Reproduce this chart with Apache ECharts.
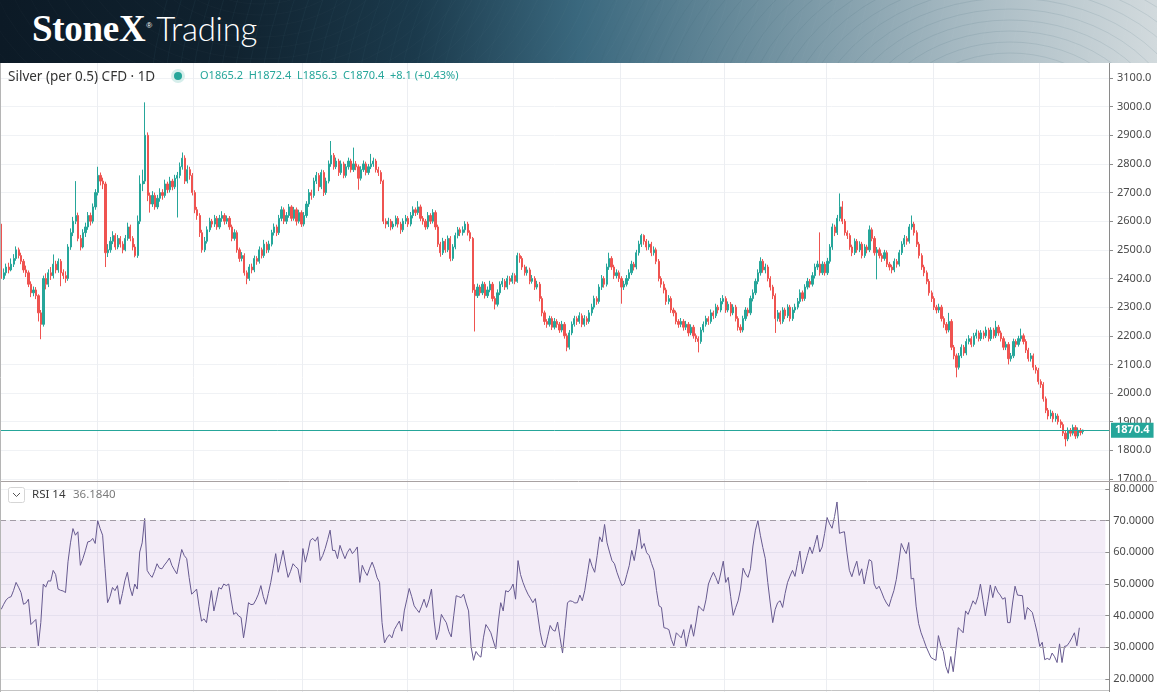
<!DOCTYPE html>
<html><head><meta charset="utf-8">
<script src="https://cdn.jsdelivr.net/npm/echarts@6/dist/echarts.min.js"></script>
<style>
html,body{margin:0;padding:0;background:#fff;overflow:hidden;width:1157px;height:692px}
#hdr{position:absolute;left:0;top:0;width:1157px;height:63px;background:linear-gradient(90deg,#0c1a26 0%,#10222f 20%,#1b3a4c 36%,#3a687e 50%,#6f909f 66%,#a3b7c0 82%,#d2dadd 100%);overflow:hidden;z-index:2}
#hdr svg{position:absolute;left:0;top:0}
#logo{position:absolute;left:32px;top:6px;color:#fff;white-space:nowrap;line-height:44px}
#logo .s{font-family:"Liberation Serif","DejaVu Serif",serif;font-weight:bold;font-size:37px;letter-spacing:-0.3px}
#logo sup{font-family:"Liberation Sans",sans-serif;font-size:8px;vertical-align:top;position:relative;top:-2px;margin-left:1px}
#logo .t{font-family:Lato,sans-serif;font-weight:300;font-size:33px;margin-left:4px;letter-spacing:-0.3px}
#chart{position:absolute;left:0;top:0;width:1157px;height:692px}
</style></head>
<body>
<div id="chart"></div>
<div id="hdr">
<svg width="1157" height="63" viewBox="0 0 1157 63">
<g fill="none" stroke="#3d6273" stroke-opacity="0.22" stroke-width="0.6" id="arcs"></g>
<g fill="none" stroke="#ffffff" stroke-opacity="0.04" stroke-width="0.6" id="arcs2"></g>
</svg>
<div id="logo"><span class="s">StoneX</span><sup>®</sup><span class="t">Trading</span></div>
</div>
<script>
// [open, close, low, high]
const bars = [
[2590,2400,2365,2600],[2400,2420,2395,2435],[2420,2440,2410,2452],[2440,2430,2418,2455],[2430,2450,2425,2470],
[2450,2470,2440,2485],[2470,2500,2462,2512],[2500,2480,2470,2508],[2480,2460,2450,2490],[2460,2430,2420,2468],
[2430,2420,2405,2445],[2420,2380,2370,2428],[2380,2350,2335,2390],[2350,2360,2338,2372],[2360,2340,2328,2370],
[2340,2280,2250,2345],[2280,2240,2188,2290],[2240,2400,2232,2410],[2400,2380,2362,2418],[2380,2420,2370,2432],
[2420,2410,2395,2440],[2410,2450,2400,2484],[2450,2430,2418,2462],[2430,2460,2420,2470],[2460,2420,2373,2468],
[2420,2410,2398,2432],[2410,2400,2385,2425],[2400,2510,2392,2520],[2510,2560,2500,2575],[2560,2600,2548,2615],
[2600,2620,2590,2740],[2620,2540,2530,2630],[2540,2510,2498,2552],[2510,2560,2505,2572],[2560,2580,2545,2595],
[2580,2620,2570,2632],[2620,2600,2585,2630],[2600,2650,2592,2662],[2650,2700,2640,2712],[2700,2760,2690,2790],
[2760,2740,2725,2770],[2740,2730,2712,2752],[2730,2490,2440,2738],[2490,2500,2475,2520],[2500,2530,2490,2545],
[2530,2550,2520,2565],[2550,2510,2500,2558],[2510,2540,2502,2552],[2540,2520,2508,2548],[2520,2500,2488,2530],
[2500,2540,2495,2552],[2540,2580,2532,2595],[2580,2540,2530,2588],[2540,2510,2498,2548],[2510,2480,2474,2520],
[2480,2600,2472,2620],[2600,2730,2590,2760],[2730,2740,2705,2780],[2740,2900,2730,3015],[2900,2690,2670,2910],
[2690,2660,2630,2700],[2660,2690,2650,2705],[2690,2650,2640,2700],[2650,2680,2642,2692],[2680,2700,2668,2715],
[2700,2690,2675,2712],[2690,2730,2682,2745],[2730,2710,2698,2738],[2710,2740,2700,2755],[2740,2720,2708,2748],
[2720,2750,2712,2762],[2750,2760,2613,2772],[2760,2790,2750,2805],[2790,2820,2780,2840],[2820,2740,2730,2830],
[2740,2780,2732,2795],[2780,2760,2745,2790],[2760,2700,2690,2768],[2700,2640,2628,2708],[2640,2620,2605,2650],
[2620,2560,2545,2628],[2560,2500,2490,2570],[2500,2530,2492,2545],[2530,2570,2522,2582],[2570,2600,2562,2612],
[2600,2590,2578,2608],[2590,2610,2580,2622],[2610,2580,2570,2618],[2580,2610,2572,2622],[2610,2620,2598,2635],
[2620,2600,2588,2628],[2600,2610,2590,2620],[2610,2580,2570,2618],[2580,2540,2530,2588],[2540,2560,2532,2572],
[2560,2500,2490,2568],[2500,2470,2458,2508],[2470,2480,2460,2492],[2480,2420,2410,2488],[2420,2400,2380,2428],
[2400,2440,2392,2450],[2440,2430,2418,2452],[2430,2470,2422,2480],[2470,2460,2448,2478],[2460,2500,2452,2512],
[2500,2480,2470,2508],[2480,2520,2472,2535],[2520,2500,2488,2528],[2500,2520,2490,2532],[2520,2560,2512,2570],
[2560,2580,2550,2592],[2580,2560,2548,2588],[2560,2610,2552,2622],[2610,2640,2600,2652],[2640,2600,2590,2648],
[2600,2620,2590,2632],[2620,2650,2612,2660],[2650,2610,2600,2656],[2610,2640,2602,2650],[2640,2600,2585,2648],
[2600,2630,2592,2640],[2630,2590,2580,2638],[2590,2620,2582,2632],[2620,2660,2612,2670],[2660,2700,2650,2712],
[2700,2690,2675,2710],[2690,2740,2682,2752],[2740,2760,2730,2772],[2760,2720,2705,2768],[2720,2770,2712,2780],
[2770,2700,2688,2778],[2700,2740,2692,2752],[2740,2800,2732,2812],[2800,2830,2790,2880],[2830,2790,2780,2838],
[2790,2810,2782,2822],[2810,2770,2758,2818],[2770,2800,2762,2812],[2800,2760,2750,2808],[2760,2790,2752,2800],
[2790,2810,2780,2822],[2810,2780,2770,2818],[2780,2800,2772,2857],[2800,2790,2778,2810],[2790,2750,2710,2798],
[2750,2780,2742,2792],[2780,2800,2772,2812],[2800,2770,2760,2808],[2770,2790,2762,2800],[2790,2800,2782,2835],
[2800,2810,2790,2822],[2810,2780,2770,2818],[2780,2770,2758,2790],[2770,2740,2730,2778],[2740,2600,2590,2745],
[2600,2590,2575,2610],[2590,2600,2580,2612],[2600,2580,2568,2608],[2580,2590,2572,2600],[2590,2610,2582,2620],
[2610,2590,2578,2618],[2590,2570,2556,2598],[2570,2600,2562,2610],[2600,2610,2590,2622],[2610,2590,2580,2618],
[2590,2620,2582,2632],[2620,2640,2610,2652],[2640,2630,2618,2648],[2630,2650,2622,2670],[2650,2610,2600,2658],
[2610,2600,2588,2618],[2600,2580,2570,2608],[2580,2620,2572,2632],[2620,2600,2590,2628],[2600,2630,2592,2642],
[2630,2580,2570,2638],[2580,2520,2510,2588],[2520,2490,2476,2528],[2490,2530,2482,2542],[2530,2500,2490,2538],
[2500,2540,2492,2550],[2540,2470,2460,2548],[2470,2510,2462,2520],[2510,2550,2502,2560],[2550,2570,2540,2580],
[2570,2560,2548,2578],[2560,2570,2550,2582],[2570,2590,2560,2600],[2590,2560,2550,2598],[2560,2540,2530,2568],
[2540,2360,2350,2545],[2360,2340,2215,2380],[2340,2370,2332,2382],[2370,2350,2340,2378],[2350,2380,2342,2390],
[2380,2340,2330,2388],[2340,2360,2332,2372],[2360,2380,2352,2392],[2380,2330,2320,2388],[2330,2310,2292,2338],
[2310,2350,2302,2362],[2350,2380,2342,2390],[2380,2390,2370,2402],[2390,2370,2360,2398],[2370,2400,2362,2410],
[2400,2390,2378,2408],[2390,2410,2382,2420],[2410,2390,2380,2418],[2390,2480,2385,2490],[2480,2470,2455,2488],
[2470,2440,2430,2478],[2440,2420,2410,2448],[2420,2430,2410,2442],[2430,2390,2380,2438],[2390,2400,2382,2412],
[2400,2370,2360,2408],[2370,2380,2362,2392],[2380,2330,2320,2388],[2330,2280,2268,2338],[2280,2250,2238,2288],
[2250,2240,2228,2258],[2240,2260,2232,2270],[2260,2230,2220,2268],[2230,2250,2222,2262],[2250,2240,2228,2258],
[2240,2220,2210,2248],[2220,2240,2212,2252],[2240,2200,2190,2248],[2200,2160,2146,2208],[2160,2210,2152,2220],
[2210,2240,2202,2250],[2240,2260,2232,2270],[2260,2250,2238,2268],[2250,2270,2242,2282],[2270,2240,2230,2278],
[2240,2260,2232,2272],[2260,2250,2238,2268],[2250,2280,2242,2290],[2280,2300,2270,2312],[2300,2330,2292,2340],
[2330,2320,2308,2338],[2320,2370,2312,2380],[2370,2400,2360,2412],[2400,2380,2368,2408],[2380,2440,2372,2452],
[2440,2470,2430,2490],[2470,2440,2430,2478],[2440,2410,2398,2448],[2410,2420,2400,2432],[2420,2400,2388,2428],
[2400,2370,2312,2408],[2370,2380,2360,2392],[2380,2400,2372,2412],[2400,2420,2392,2432],[2420,2450,2412,2462],
[2450,2440,2428,2458],[2440,2490,2432,2500],[2490,2520,2480,2532],[2520,2550,2510,2556],[2550,2530,2518,2554],
[2530,2510,2498,2538],[2510,2520,2500,2532],[2520,2490,2478,2528],[2490,2500,2480,2512],[2500,2460,2450,2508],
[2460,2400,2390,2468],[2400,2380,2368,2408],[2380,2360,2348,2390],[2360,2320,2308,2368],[2320,2330,2310,2342],
[2330,2290,2280,2338],[2290,2280,2268,2298],[2280,2250,2240,2288],[2250,2240,2228,2258],[2240,2250,2230,2262],
[2250,2230,2218,2258],[2230,2240,2220,2252],[2240,2210,2198,2248],[2210,2230,2202,2240],[2230,2200,2190,2238],
[2200,2190,2178,2208],[2190,2180,2142,2198],[2180,2220,2172,2230],[2220,2240,2212,2250],[2240,2260,2232,2270],
[2260,2250,2238,2268],[2250,2280,2242,2292],[2280,2270,2258,2288],[2270,2300,2262,2312],[2300,2290,2278,2308],
[2290,2320,2282,2332],[2320,2330,2310,2342],[2330,2290,2280,2338],[2290,2310,2282,2320],[2310,2280,2268,2318],
[2280,2300,2272,2310],[2300,2260,2250,2308],[2260,2230,2218,2268],[2230,2220,2210,2240],[2220,2260,2212,2270],
[2260,2290,2252,2300],[2290,2280,2268,2298],[2280,2330,2272,2340],[2330,2350,2320,2362],[2350,2390,2342,2400],
[2390,2420,2380,2432],[2420,2460,2410,2474],[2460,2430,2420,2468],[2430,2440,2418,2452],[2440,2400,2390,2448],
[2400,2370,2358,2408],[2370,2340,2328,2378],[2340,2260,2210,2348],[2260,2280,2250,2290],[2280,2250,2240,2288],
[2250,2290,2242,2300],[2290,2270,2258,2298],[2270,2300,2262,2310],[2300,2260,2250,2308],[2260,2290,2252,2300],
[2290,2300,2280,2312],[2300,2320,2292,2332],[2320,2350,2312,2362],[2350,2330,2320,2358],[2330,2370,2322,2380],
[2370,2390,2362,2402],[2390,2380,2368,2398],[2380,2410,2372,2422],[2410,2440,2400,2452],[2440,2450,2430,2462],
[2450,2420,2410,2561],[2420,2450,2412,2460],[2450,2420,2410,2458],[2420,2460,2412,2472],[2460,2510,2452,2520],
[2510,2580,2500,2592],[2580,2560,2548,2588],[2560,2610,2552,2622],[2610,2650,2600,2697],[2650,2600,2590,2670],
[2600,2560,2550,2608],[2560,2550,2538,2568],[2550,2510,2500,2558],[2510,2490,2478,2518],[2490,2530,2482,2540],
[2530,2500,2490,2538],[2500,2520,2492,2530],[2520,2480,2470,2528],[2480,2510,2472,2520],[2510,2500,2488,2518],
[2500,2570,2492,2585],[2570,2540,2530,2578],[2540,2490,2480,2548],[2490,2500,2397,2510],[2500,2480,2470,2508],
[2480,2470,2458,2488],[2470,2490,2462,2500],[2490,2450,2440,2498],[2450,2440,2428,2458],[2440,2430,2418,2448],
[2430,2460,2422,2470],[2460,2450,2438,2468],[2450,2490,2442,2500],[2490,2520,2482,2530],[2520,2540,2510,2552],
[2540,2530,2518,2548],[2530,2580,2522,2590],[2580,2590,2570,2620],[2590,2560,2550,2598],[2560,2520,2510,2568],
[2520,2480,2470,2528],[2480,2440,2430,2488],[2440,2420,2408,2448],[2420,2390,2380,2428],[2390,2350,2340,2398],
[2350,2330,2318,2358],[2330,2300,2290,2338],[2300,2290,2278,2308],[2290,2300,2280,2312],[2300,2260,2250,2308],
[2260,2240,2228,2268],[2240,2220,2208,2248],[2220,2250,2212,2280],[2250,2160,2150,2258],[2160,2130,2118,2168],
[2130,2090,2055,2138],[2090,2130,2082,2140],[2130,2160,2122,2170],[2160,2140,2130,2168],[2140,2180,2132,2190],
[2180,2190,2170,2202],[2190,2170,2160,2198],[2170,2200,2162,2210],[2200,2210,2190,2222],[2210,2190,2180,2218],
[2190,2210,2182,2220],[2210,2200,2188,2218],[2200,2220,2192,2232],[2220,2190,2180,2228],[2190,2220,2182,2230],
[2220,2200,2190,2228],[2200,2230,2192,2252],[2230,2210,2200,2238],[2210,2190,2180,2218],[2190,2160,2150,2198],
[2160,2170,2150,2180],[2170,2120,2100,2178],[2120,2130,2110,2140],[2130,2180,2122,2190],[2180,2170,2160,2188],
[2170,2190,2162,2200],[2190,2200,2180,2225],[2200,2180,2170,2208],[2180,2150,2140,2188],[2150,2120,2110,2158],
[2120,2130,2110,2140],[2130,2090,2080,2138],[2090,2080,2068,2098],[2080,2040,2030,2088],[2040,2030,2018,2048],
[2030,1980,1970,2038],[1980,1940,1930,1988],[1940,1920,1908,1948],[1920,1930,1910,1942],[1930,1910,1898,1938],
[1910,1920,1900,1930],[1920,1900,1890,1928],[1900,1890,1878,1908],[1890,1860,1850,1898],[1860,1840,1814,1868],
[1840,1870,1832,1880],[1870,1860,1848,1878],[1860,1880,1852,1890],[1880,1850,1840,1888],[1850,1870,1842,1880],
[1870,1862.3,1852,1878],[1865.2,1870.4,1856.3,1872.4]
];
const rsi = [
42,43.6,45,45.7,46,48,50.5,49,47.3,43.6,44,45.2,37.2,38,38.8,30.5,37.8,50,49,51,
50.9,54.3,53,48.4,48,47.8,47.3,57,63,67.5,65.4,66.5,55.9,58,60.5,63.3,63.5,64.4,62.8,70,
67.5,65.4,54.8,44.1,46,48.9,47.9,49.5,43.6,47,51,53.7,49,46.3,50,48.4,60.1,63,70.7,54.3,
53,52.1,54,56.4,55,54.8,56,57,58.2,55.9,54.5,53.2,57,60.9,59,58,52,46.8,47.5,48.4,
43,38.3,39,37.8,43,47.9,41.5,45,48.9,48.4,50,49.5,50,45,40.4,41,39.9,39.4,33,38,
44.1,43.5,43.6,45,46.8,49.5,46,43.6,47,50.5,55,59.6,53.7,57,60.6,56,52.1,54,56.4,55.5,
54.8,50.5,61.2,56.9,60,63.8,64.4,63.5,64.9,57.4,59,61.2,64,67,60.6,60.6,58,62.2,60,58,
60,61.2,59.6,60.5,61.7,50.5,55.9,54,52.7,55,56.9,54.8,52,50.5,37.8,31.4,33,34,33,35.6,
37,38.3,35.1,41.5,45,48.6,46,43.1,42,41,43,45.2,42.6,45,48.4,38.8,32.4,35,40.4,39,
37.8,35,33.3,40,46.3,46,45.7,46.8,44,41.5,30.3,25.9,28.7,27.5,26.9,33,37.2,36,34.6,32,
29.5,38,44.1,41.5,47.9,47.5,48.4,50,45.2,57.4,53,50.5,48.5,46.8,45.5,44.1,45.4,40,34.6,31,
30,33.5,36.9,35.5,35.1,38,33,28.2,36,44.1,44.7,44.5,44,44.1,46.5,44.7,48,53,58,55.5,
53.7,59,64.9,63.3,68.8,63,60.1,57.4,56.4,53.7,51.5,49.5,50,53,55.9,60.6,57.4,62,67.3,61.2,
62.8,59.9,59,56.5,54.3,48,43.1,42.6,36.2,36,35.6,32.5,30.5,34.6,33.8,33,35.6,30.3,34,37.2,
33.5,38,43.1,42.2,41.5,45,50,52,53.7,52,50,53.5,57.2,50.5,52.1,46,40.1,42.5,44.7,48.4,
55,53.2,52.1,54.8,62,67,70,65.4,61.5,58,50.5,44,37.8,42,44.1,44.7,42.6,47,50.5,52.5,
54.3,52.4,56.5,60.4,53.2,56,59,61.7,59.6,62.5,65.4,60.1,61.7,66,71,69,67.6,71.3,75.9,66,
66.3,66.5,60,54.3,52.3,55,57.2,52.7,54.8,50,54,57.7,57.2,50,48.4,49.3,47.5,45.5,44,42.9,
45.5,47.9,51.5,57,62.8,61,59.6,63.1,51.6,51.8,43,37.5,34.6,32.5,30.3,28.5,26.8,26.3,25.9,33.7,
30.5,28.7,24,21.8,27.1,22.3,29,36.2,35.5,34.6,41.5,40.4,42.5,44.7,43.6,46,50,45,39.9,44.5,
49.7,45.7,49.3,47.5,46.5,45.2,45.7,37.8,37.8,44,49.3,46.5,46.4,46.3,38.8,42.6,41.8,41,37.8,34.5,
30.3,31.6,26.1,26.5,26.1,28.2,27,25.2,31.1,25.2,30.3,30.5,31.6,33,34.6,30.5,36.184
];
const rsiLevels = [30, 70];
const rsiBand = [30, 70];
const lastPrice = 1870.4;
const lastRsi = 36.184;
const monthLines = [39, 78, 122, 164, 207, 250, 292, 333, 376, 419];
const emptySlots = 10;

// header contour arcs (decoration)
(function(){
  const g = document.getElementById('arcs'), g2 = document.getElementById('arcs2');
  let s = '', s2 = '';
  for (let r = 20; r < 700; r += 11) {
    s += '<ellipse cx="1010" cy="150" rx="' + (r*1.25) + '" ry="' + r + '"/>';
    s2 += '<ellipse cx="260" cy="-60" rx="' + (r*1.4) + '" ry="' + r + '"/>';
  }
  g.innerHTML = s; g2.innerHTML = s2;
})();

const cats = [];
for (let i = 0; i < bars.length + emptySlots; i++) cats.push(String(i));

const FONT = '"Noto Sans", "Open Sans", sans-serif';
const UP = '#26a69a', DOWN = '#ef5350';

const chart = echarts.init(document.getElementById('chart'), null, {renderer: 'canvas'});
chart.setOption({
  animation: false,
  grid: [
    {left: 0, right: 48, top: 78, height: 401},
    {left: 0, right: 48, top: 489, height: 190},
    {left: 0, right: 48, top: 63, bottom: 0}
  ],
  xAxis: [
    {type: 'category', gridIndex: 0, data: cats, boundaryGap: true, show: false},
    {type: 'category', gridIndex: 1, data: cats, boundaryGap: true, show: false},
    {type: 'category', gridIndex: 2, data: cats, boundaryGap: true,
     axisLine: {show: false}, axisTick: {show: false}, axisLabel: {show: false},
     splitLine: {show: true, interval: (i) => monthLines.indexOf(i) >= 0, lineStyle: {color: '#eceef2', width: 1}}}
  ],
  yAxis: [
    {type: 'value', gridIndex: 0, position: 'right', min: 1700, max: 3100, interval: 100,
     axisLine: {show: false},
     axisTick: {show: true, length: 4, lineStyle: {color: '#8c8c8c'}},
     axisLabel: {formatter: v => v.toFixed(1), color: '#4a4a4a', fontSize: 11, fontFamily: FONT, margin: 8},
     splitLine: {show: true, lineStyle: {color: '#f0f2f5'}}},
    {type: 'value', gridIndex: 1, position: 'right', min: 20, max: 80, interval: 10,
     axisLine: {show: false},
     axisTick: {show: true, length: 4, lineStyle: {color: '#8c8c8c'}},
     axisLabel: {formatter: v => v.toFixed(4), color: '#4a4a4a', fontSize: 11, fontFamily: FONT, margin: 8},
     splitLine: {show: true, lineStyle: {color: '#f0f2f5'}}},
    {type: 'value', gridIndex: 2, position: 'right', min: 0, max: 1,
     axisLine: {show: true, lineStyle: {color: '#8a8a8a', width: 1}},
     axisTick: {show: false}, axisLabel: {show: false}, splitLine: {show: false}}
  ],
  series: [
    {type: 'candlestick', xAxisIndex: 0, yAxisIndex: 0, data: bars, barWidth: 1.7, large: false,
     itemStyle: {color: UP, color0: DOWN, borderColor: UP, borderColor0: DOWN, borderWidth: 1},
     markLine: {symbol: 'none', silent: true, animation: false,
       lineStyle: {color: UP, type: 'solid', width: 1},
       label: {show: true, position: 'end', formatter: () => lastPrice.toFixed(1), backgroundColor: UP,
               color: '#fff', fontWeight: 'bold', fontSize: 11, fontFamily: FONT, padding: [2, 4, 2, 4], distance: 2},
       data: [{yAxis: lastPrice}]}},
    {type: 'line', xAxisIndex: 1, yAxisIndex: 1, data: rsi, showSymbol: false, symbol: 'none',
     lineStyle: {color: '#66598f', width: 1},
     markArea: {silent: true, itemStyle: {color: 'rgba(150,84,184,0.11)'},
       data: [[{yAxis: rsiBand[0]}, {yAxis: rsiBand[1]}]]},
     markLine: {symbol: 'none', silent: true, animation: false,
       lineStyle: {color: '#a39ca6', type: [6, 4], width: 1}, label: {show: false},
       data: rsiLevels.map(v => ({yAxis: v}))}}
  ],
  graphic: [
    {type: 'line', shape: {x1: 0, y1: 481.5, x2: 1157, y2: 481.5}, style: {stroke: '#a8a2a2', lineWidth: 1}, z: 10},
    {type: 'line', shape: {x1: 0, y1: 690.5, x2: 1109, y2: 690.5}, style: {stroke: '#c4c4c4', lineWidth: 1}, z: 10},
    {type: 'line', shape: {x1: 0.5, y1: 63, x2: 0.5, y2: 692}, style: {stroke: '#b5b5b5', lineWidth: 1}, z: 10},
    {type: 'text', x: 8, y: 77, z: 10, style: {text: 'Silver (per 0.5) CFD · 1D', fill: '#333', font: '13.5px ' + FONT, verticalAlign: 'middle'}},
    {type: 'circle', shape: {cx: 178, cy: 76, r: 7}, style: {fill: '#d6eeeb'}, z: 10},
    {type: 'circle', shape: {cx: 178, cy: 76, r: 4}, style: {fill: UP}, z: 11},
    {type: 'text', x: 200, y: 76, z: 10, style: {text: 'O1865.2  H1872.4  L1856.3  C1870.4  +8.1 (+0.43%)', fill: UP, font: '11px ' + FONT, verticalAlign: 'middle'}},
    {type: 'rect', shape: {x: 8.5, y: 487.5, width: 16, height: 15, r: 2}, style: {fill: '#fff', stroke: '#d6d6d6', lineWidth: 1}, z: 10},
    {type: 'polyline', shape: {points: [[13, 493], [16.5, 496.5], [20, 493]]}, style: {stroke: '#555', lineWidth: 1, fill: 'none'}, z: 11},
    {type: 'text', x: 32, y: 495, z: 10, style: {text: 'RSI 14', fill: '#3a3a3a', font: '11.5px ' + FONT, verticalAlign: 'middle'}},
    {type: 'text', x: 73, y: 495, z: 10, style: {text: lastRsi.toFixed(4), fill: '#7a7a7a', font: '11.5px ' + FONT, verticalAlign: 'middle'}}
  ]
});
</script>
</body></html>
